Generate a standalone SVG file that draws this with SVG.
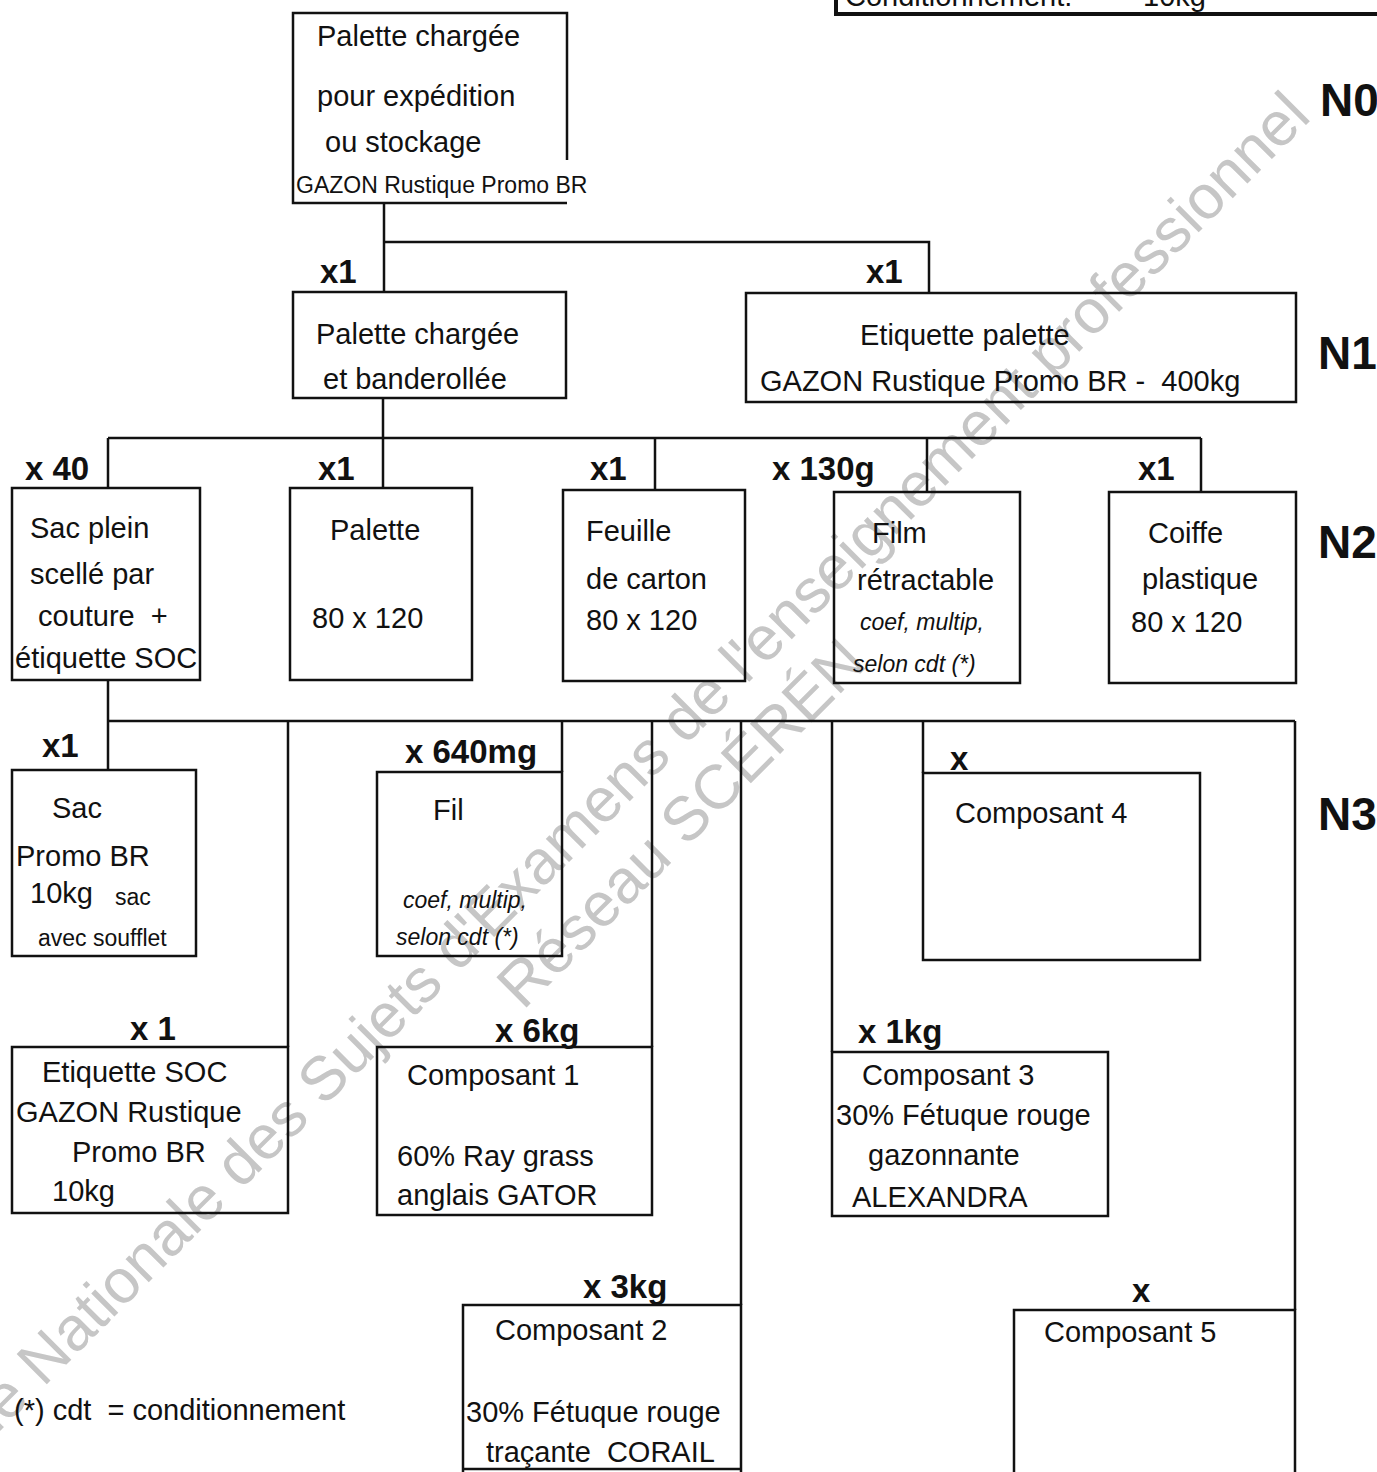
<svg xmlns="http://www.w3.org/2000/svg" width="1377" height="1472" viewBox="0 0 1377 1472">
<style>
.box{fill:none;stroke:#111;stroke-width:2.5}
.ln{fill:none;stroke:#111;stroke-width:2.5}
text{font-family:"Liberation Sans",Arial,sans-serif;fill:#111;white-space:pre}
.t{font-size:29px}
.s{font-size:23px}
.i{font-size:23px;font-style:italic}
.q{font-size:33px;font-weight:bold}
.lv{font-size:46px;font-weight:bold}
.wm{font-size:62px;fill:#c6c6c6}
</style>
<rect width="1377" height="1472" fill="#fff"/>
<g id="watermark">
<text class="wm" x="-120" y="1551" transform="rotate(-45 -120 1551)">Banque Nationale des Sujets d'Examens de l'enseignement professionnel</text>
<text class="wm" x="523" y="1011" transform="rotate(-45 523 1011)">Réseau SCÉRÉN</text>
</g>
<g id="header-box">
<path d="M836,0 V14 H1377" fill="none" stroke="#111" stroke-width="4"/>
<text class="t" x="845" y="6">Conditionnement:</text>
<text class="t" x="1143" y="6">10kg</text>
</g>
<g id="levels">
<text class="lv" x="1320" y="116">N0</text>
<text class="lv" x="1318" y="369">N1</text>
<text class="lv" x="1318" y="558">N2</text>
<text class="lv" x="1318" y="830">N3</text>
</g>
<g id="connectors">
<path class="ln" d="M384,203 V292 M384,242 H929 V293"/>
<path class="ln" d="M383,398 V488 M108,438 H1201 M108,438 V488 M655,438 V490 M927,438 V492 M1201,438 V492"/>
<path class="ln" d="M108,680 V770 M108,721 H1295 M288,721 V1047 M562,721 V772 M652,721 V1047 M741,721 V1305 M832,721 V1052 M923,721 V773 M1295,721 V1310"/>
</g>
<g id="labels">
<text class="q" x="320" y="283">x1</text>
<text class="q" x="866" y="283">x1</text>
<text class="q" x="25" y="480">x 40</text>
<text class="q" x="318" y="480">x1</text>
<text class="q" x="590" y="480">x1</text>
<text class="q" x="772" y="480">x 130g</text>
<text class="q" x="1138" y="480">x1</text>
<text class="q" x="42" y="757">x1</text>
<text class="q" x="405" y="763">x 640mg</text>
<text class="q" x="950" y="770">x</text>
<text class="q" x="130" y="1040">x 1</text>
<text class="q" x="495" y="1042">x 6kg</text>
<text class="q" x="858" y="1043">x 1kg</text>
<text class="q" x="583" y="1298">x 3kg</text>
<text class="q" x="1132" y="1302">x</text>
</g>
<g id="n0">
<path class="box" d="M567,160 V13 H293 V203 H567"/>
<text class="t" x="317" y="46">Palette chargée</text>
<text class="t" x="317" y="106">pour expédition</text>
<text class="t" x="325" y="152">ou stockage</text>
<text class="s" x="296" y="193">GAZON Rustique Promo BR</text>
</g>
<g id="n1-palette">
<rect class="box" x="293" y="292" width="273" height="106"/>
<text class="t" x="316" y="344">Palette chargée</text>
<text class="t" x="323" y="389">et banderollée</text>
</g>
<g id="n1-etiquette">
<rect class="box" x="746" y="293" width="550" height="109"/>
<text class="t" x="860" y="345">Etiquette palette</text>
<text class="t" x="760" y="391">GAZON Rustique Promo BR -  400kg</text>
</g>
<g id="n2-sac">
<rect class="box" x="12" y="488" width="188" height="192"/>
<text class="t" x="30" y="538">Sac plein</text>
<text class="t" x="30" y="584">scellé par</text>
<text class="t" x="38" y="626">couture  +</text>
<text class="t" x="15" y="668">étiquette SOC</text>
</g>
<g id="n2-palette">
<rect class="box" x="290" y="488" width="182" height="192"/>
<text class="t" x="330" y="540">Palette</text>
<text class="t" x="312" y="628">80 x 120</text>
</g>
<g id="n2-feuille">
<rect class="box" x="563" y="490" width="182" height="191"/>
<text class="t" x="586" y="541">Feuille</text>
<text class="t" x="586" y="589">de carton</text>
<text class="t" x="586" y="630">80 x 120</text>
</g>
<g id="n2-film">
<rect class="box" x="834" y="492" width="186" height="191"/>
<text class="t" x="872" y="543">Film</text>
<text class="t" x="857" y="590">rétractable</text>
<text class="i" x="860" y="630">coef, multip,</text>
<text class="i" x="853" y="672">selon cdt (*)</text>
</g>
<g id="n2-coiffe">
<rect class="box" x="1109" y="492" width="187" height="191"/>
<text class="t" x="1148" y="543">Coiffe</text>
<text class="t" x="1142" y="589">plastique</text>
<text class="t" x="1131" y="632">80 x 120</text>
</g>
<g id="n3-sac">
<rect class="box" x="12" y="770" width="184" height="186"/>
<text class="t" x="52" y="818">Sac</text>
<text class="t" x="16" y="866">Promo BR</text>
<text class="t" x="30" y="903">10kg</text>
<text class="s" x="115" y="905">sac</text>
<text class="s" x="38" y="946">avec soufflet</text>
</g>
<g id="n3-fil">
<rect class="box" x="377" y="772" width="185" height="184"/>
<text class="t" x="433" y="820">Fil</text>
<text class="i" x="403" y="908">coef, multip,</text>
<text class="i" x="396" y="945">selon cdt (*)</text>
</g>
<g id="n3-composant4">
<rect class="box" x="923" y="773" width="277" height="187"/>
<text class="t" x="955" y="823">Composant 4</text>
</g>
<g id="n3-etiquette-soc">
<rect class="box" x="12" y="1047" width="276" height="166"/>
<text class="t" x="42" y="1082">Etiquette SOC</text>
<text class="t" x="16" y="1122">GAZON Rustique</text>
<text class="t" x="72" y="1162">Promo BR</text>
<text class="t" x="52" y="1201">10kg</text>
</g>
<g id="n3-composant1">
<rect class="box" x="377" y="1047" width="275" height="168"/>
<text class="t" x="407" y="1085">Composant 1</text>
<text class="t" x="397" y="1166">60% Ray grass</text>
<text class="t" x="397" y="1205">anglais GATOR</text>
</g>
<g id="n3-composant3">
<rect class="box" x="832" y="1052" width="276" height="164"/>
<text class="t" x="862" y="1085">Composant 3</text>
<text class="t" x="836" y="1125">30% Fétuque rouge</text>
<text class="t" x="868" y="1165">gazonnante</text>
<text class="t" x="852" y="1207">ALEXANDRA</text>
</g>
<g id="n3-composant2">
<path class="box" d="M463,1480 V1305 H741 V1480"/>
<path class="box" d="M463,1469 H741"/>
<text class="t" x="495" y="1340">Composant 2</text>
<text class="t" x="466" y="1422">30% Fétuque rouge</text>
<text class="t" x="486" y="1462">traçante  CORAIL</text>
</g>
<g id="n3-composant5">
<path class="box" d="M1014,1480 V1310 H1295 V1480"/>
<text class="t" x="1044" y="1342">Composant 5</text>
</g>
<g id="footnote">
<text class="t" x="14" y="1420">(*) cdt  = conditionnement</text>
</g>
</svg>
